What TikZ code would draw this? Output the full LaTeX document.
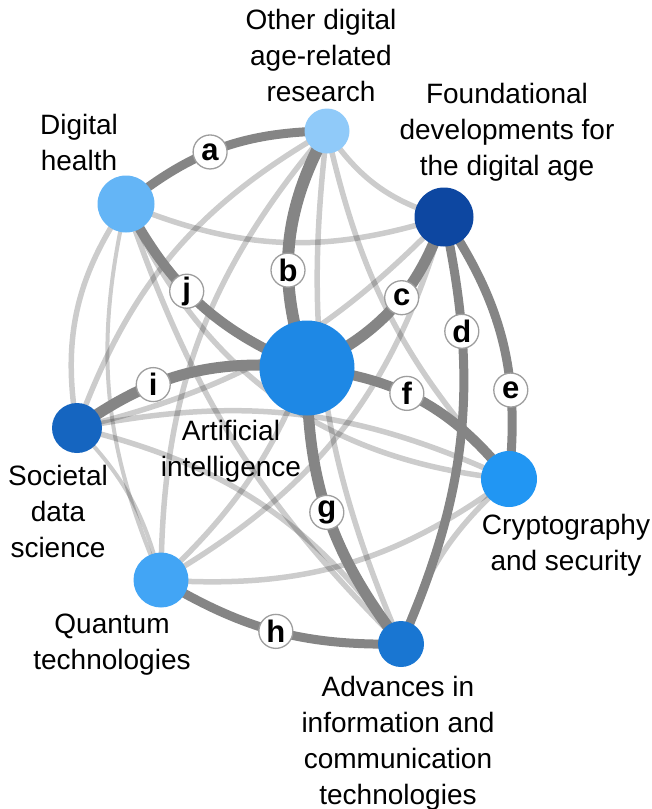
\documentclass[tikz,border=0pt]{standalone}
\usepackage{fontspec}
\setmainfont{Liberation Sans}
\usetikzlibrary{arrows}

\definecolor{darkedge}{RGB}{133,133,133}
\definecolor{cOD}{HTML}{90CAF9}
\definecolor{cFD}{HTML}{0D47A1}
\definecolor{cDH}{HTML}{64B5F6}
\definecolor{cAI}{HTML}{1E88E5}
\definecolor{cSD}{HTML}{1565C0}
\definecolor{cCS}{HTML}{2196F3}
\definecolor{cQT}{HTML}{42A5F5}
\definecolor{cICT}{HTML}{1976D2}

\pgfdeclarelayer{back}
\pgfsetlayers{back,main}

\begin{document}
\begin{tikzpicture}[x=1pt,y=1pt,
  topic/.style={circle, inner sep=0pt, minimum size=#1},
  txt/.style={align=center, font=\fontsize{28}{36}\selectfont},
  weak/.style={draw=black, draw opacity=.2, line width=5.5pt},
  strong/.style={draw=darkedge, line width=#1},
  lbl/.style={circle, draw=black!38, line width=1.3pt, fill=white, inner sep=0pt,
    minimum size=34pt, font=\fontsize{31}{31}\selectfont\bfseries}]
\useasboundingbox (0,0) rectangle (652,-809);

% topics
\node[topic=45pt, fill=cOD] (od) at (327,-131) {};
\node[topic=59pt, fill=cFD] (fd) at (444,-217) {};
\node[topic=57pt, fill=cDH] (dh) at (126,-204) {};
\node[topic=95pt, fill=cAI] (ai) at (307,-368) {};
\node[topic=50pt, fill=cSD] (sd) at (77,-428) {};
\node[topic=56pt, fill=cCS] (cs) at (509,-479) {};
\node[topic=55pt, fill=cQT] (qt) at (161,-580) {};
\node[topic=46pt, fill=cICT] (ict) at (401,-644) {};

% names
\node[txt] (odtext) at (321,-55) {Other digital\\age-related\\research};
\node[txt] (fdtext) at (507,-132) {Foundational\\developments for\\the digital age};
\node[txt] (dhtext) at (79,-142) {Digital\\health};
\node[txt] (aitext) at (231,-451) {Artificial\\intelligence};
\node[txt] (sdtext) at (58,-511) {Societal\\data\\science};
\node[txt] (cstext) at (566,-545) {Cryptography\\and security};
\node[txt] (qttext) at (112,-645) {Quantum\\technologies};
\node[txt] (icttext) at (398,-743) {Advances in\\information and\\communication\\technologies};

\begin{pgfonlayer}{back}
% weak links
\draw[weak] (od.center) to[bend right=20] (fd.center);
\draw[weak] (dh.center) to[bend right=20] (fd.center);
\draw[weak] (od.center) to[bend right=20] (sd.center);
\draw[weak] (od.center) to[bend right=20] (qt.center);
\draw[weak] (od.center) to[bend right=15] (ict.center);
\draw[weak] (od.center) to[bend right=15] (cs.center);
\draw[weak] (fd.center) to[bend left=16] (sd.center);
\draw[weak] (fd.center) to[bend left=22] (qt.center);
\draw[weak] (dh.center) to[bend right=22] (sd.center);
\draw[weak, line width=4pt] (dh.center) to[bend right=18] (qt.center);
\draw[weak] (dh.center) to[bend right=13] (ict.center);
\draw[weak] (dh.center) to[bend right=30] (cs.center);
\draw[weak] (ai.center) to[bend left=12] (qt.center);
\draw[weak, line width=4pt] (sd.center) to[bend left=15] (qt.center);
\draw[weak] (sd.center) to[bend left=18] (cs.center);
\draw[weak] (sd.center) to[bend left=20] (ict.center);
\draw[weak] (qt.center) to[bend right=20] (cs.center);
\draw[weak] (cs.center) to[bend right=15] (ict.center);

% strong links
\draw[strong=9pt] (dh.center) to[bend left=19] node[lbl, pos=.45] (la) {a} (od.center);
\draw[strong=12pt] (od.center) to[bend right=24] node[lbl, pos=.6] (lb) {b} (ai.center);
\draw[strong=11pt] (fd.center) to[bend left=23] node[lbl, pos=.43] (lc) {c} (ai.center);
\draw[strong=9pt] (fd.center) to[bend left=18] node[lbl, pos=.25] (ld) {d} (ict.center);
\draw[strong=9pt] (fd.center) to[bend left=20] node[lbl, pos=.69] (le) {e} (cs.center);
\draw[strong=10pt] (ai.center) to[bend left=23] node[lbl, pos=.43] (lf) {f} (cs.center);
\draw[strong=11pt] (ai.center) to[bend right=19] node[lbl, pos=.49] (lg) {g} (ict.center);
\draw[strong=9pt] (qt.center) to[bend right=16] node[lbl, pos=.5] (lh) {h} (ict.center);
\draw[strong=11pt] (sd.center) to[bend left=21] node[lbl, pos=.35] (li) {i} (ai.center);
\draw[strong=10pt] (dh.center) to[bend right=20] node[lbl, pos=.42] (lj) {j} (ai.center);
\end{pgfonlayer}
\end{tikzpicture}
\end{document}
